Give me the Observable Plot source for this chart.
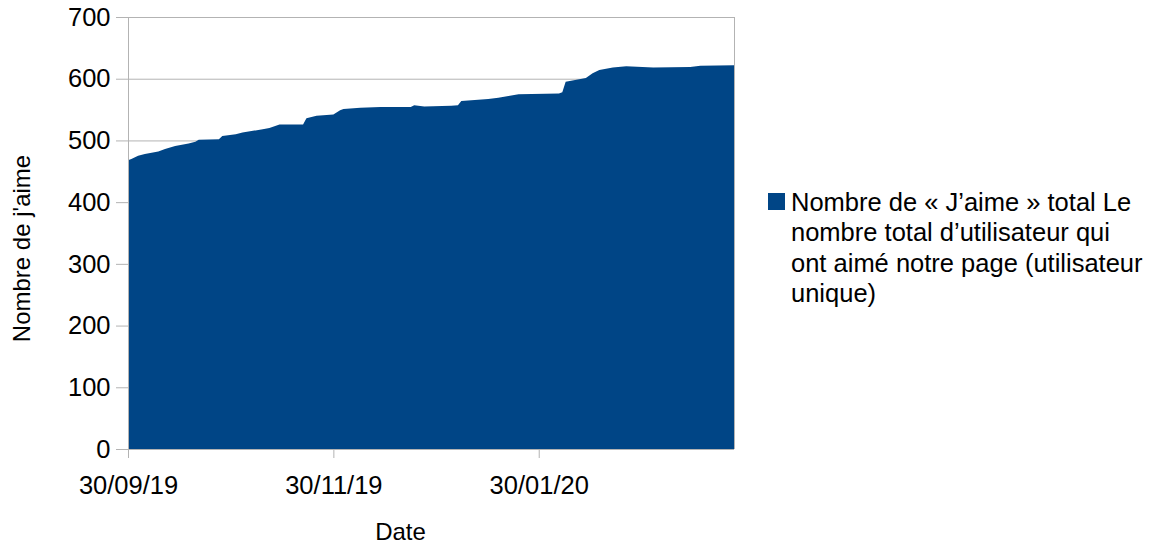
<!DOCTYPE html>
<html><head><meta charset="utf-8">
<script src="https://cdn.jsdelivr.net/npm/d3@7"></script>
<script src="https://cdn.jsdelivr.net/npm/@observablehq/plot@0.6"></script>
<style>
body{margin:0;background:#fff;font-family:"Liberation Sans",Arial,sans-serif;}
#wrap{position:relative;width:1156px;height:549px;overflow:hidden;}
#legend{position:absolute;left:768px;top:187px;font-size:25.5px;line-height:30.3px;color:#000;white-space:nowrap;}
#legend .sw{position:absolute;left:0;top:6px;width:17px;height:17px;background:#004586;}
#legend .txt{position:absolute;left:23px;top:0;}
</style></head><body><div id="wrap"></div>
<script>
const dates = ["2019-09-30","2019-10-01","2019-10-03","2019-10-05","2019-10-09","2019-10-11","2019-10-14","2019-10-18","2019-10-20","2019-10-21","2019-10-27","2019-10-28","2019-11-01","2019-11-03","2019-11-09","2019-11-11","2019-11-14","2019-11-21","2019-11-22","2019-11-25","2019-11-30","2019-12-02","2019-12-03","2019-12-08","2019-12-14","2019-12-23","2019-12-24","2019-12-27","2020-01-04","2020-01-06","2020-01-07","2020-01-15","2020-01-18","2020-01-21","2020-01-24","2020-02-05","2020-02-06","2020-02-07","2020-02-13","2020-02-15","2020-02-17","2020-02-21","2020-02-25","2020-03-04","2020-03-15","2020-03-18","2020-03-28"];
const likes = [468,470,475,478,482,486,491,495,498,501,502,507,510,513,518,520,526,526,536,540,542,549,551,553,554,554,557,555,556,557,564,567,569,572,575,576,578,595,601,609,614,618,620,618,619,621,622];
const xTicks = ["2019-09-30","2019-11-30","2020-01-30"];
const yTicks = [0,100,200,300,400,500,600,700];
const yLabel = "Nombre de j'aime";
const xLabel = "Date";
const legendLines = ["Nombre de « J’aime » total Le","nombre total d’utilisateur qui","ont aimé notre page (utilisateur","unique)"];

const parse = d3.utcParse("%Y-%m-%d");
const data = dates.map((d,i)=>({date:parse(d), likes:likes[i]}));
const x0 = data[0].date, x1 = data[data.length-1].date;
const grid = "#b3b3b3";

const chart = Plot.plot({
  width:1156, height:549,
  marginLeft:128, marginRight:422, marginTop:17, marginBottom:100,
  x:{type:"utc", domain:[x0,x1]},
  y:{domain:[0,700]},
  style:{fontFamily:"'Liberation Sans', Arial, sans-serif", fontSize:"25.5px", color:"#000", background:"#fff"},
  marks:[
    Plot.gridY(yTicks,{stroke:grid, strokeOpacity:1}),
    Plot.areaY(data,{x:"date", y:"likes", fill:"#004586"}),
    Plot.ruleX([x0],{stroke:grid}),
    Plot.ruleX([x1],{stroke:grid}),
    Plot.ruleY([0],{stroke:grid}),
    Plot.axisY(yTicks,{tickSize:12, tickPadding:6, stroke:grid, label:null, fill:"#000"}),
    Plot.axisX(xTicks.map(parse),{tickSize:9, tickPadding:17, stroke:grid, label:null, fill:"#000", tickFormat:d3.utcFormat("%d/%m/%y")}),
    Plot.text([yLabel],{frameAnchor:"left", dx:-106, dy:15, rotate:-90, textAnchor:"middle", fontSize:24, fill:"#000"}),
    Plot.text([xLabel],{frameAnchor:"bottom", dy:90, dx:-31, fontSize:24, fill:"#000"})
  ]
});
const wrap = document.getElementById("wrap");
wrap.appendChild(chart);
const lg = document.createElement("div");
lg.id = "legend";
lg.innerHTML = '<div class="sw"></div><div class="txt">' + legendLines.join("<br>") + '</div>';
wrap.appendChild(lg);
</script>
</body></html>
